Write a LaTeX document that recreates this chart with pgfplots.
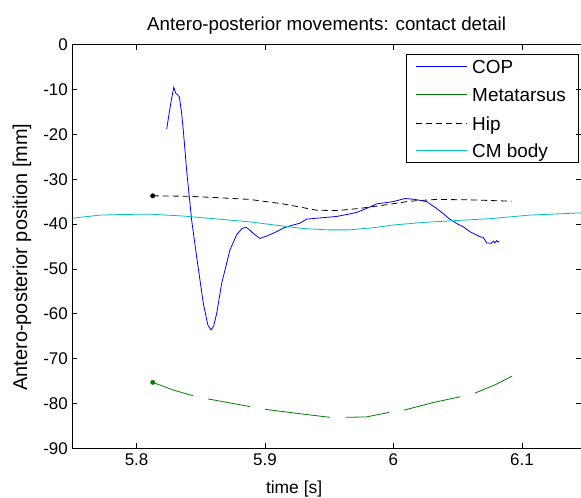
\documentclass[border=0pt]{standalone}
\usepackage{pgfplots}
\pgfplotsset{compat=1.18}
\usepackage{fontspec}
\setmainfont{Liberation Sans}
\definecolor{copblue}{rgb}{0,0,1}
\definecolor{metgreen}{rgb}{0,0.5,0}
\definecolor{cmcyan}{rgb}{0,0.75,0.75}
\begin{document}
\begin{tikzpicture}
\begin{axis}[
  scale only axis,
  width=508.7bp, height=403.6bp,
  xmin=5.75, xmax=6.146,
  ymin=-90, ymax=0,
  xtick={5.8,5.9,6,6.1},
  xticklabels={5.8,5.9,6,6.1},
  ytick={-90,-80,...,0},
  tick align=inside,
  major tick length=5bp,
  tick style={black, line width=0.6bp},
  axis line style={black, line width=0.6bp},
  font=\fontsize{17}{20}\selectfont,
  /pgf/number format/assume math mode=true,
  ticklabel style={font=\fontsize{17}{20}\selectfont},
  xticklabel style={yshift=-2bp},
  yticklabel style={xshift=-1bp},
  title={Antero-posterior movements: contact detail},
  title style={font=\fontsize{18.8}{22}\selectfont, yshift=1bp},
  xlabel={time [s]},
  ylabel={Antero-posterior position [mm]},
  xlabel style={at={(axis description cs:0.436,-0.1008)}, anchor=center, font=\fontsize{17.5}{20}\selectfont},
  ylabel style={at={(axis description cs:-0.0989,0.474)}, anchor=center, font=\fontsize{20}{24}\selectfont},
  unbounded coords=jump,
  clip=false,
]
\addplot[copblue, line width=0.8bp] coordinates {
(5.8235,-18.8) (5.8250,-16.0) (5.8270,-12.5) (5.8290,-9.5) (5.8305,-10.8) (5.8333,-11.6)
(5.8350,-15) (5.8364,-19) (5.8390,-28) (5.8429,-39.1) (5.8468,-47.3)
(5.8520,-57.7) (5.8555,-62.5) (5.8580,-63.6) (5.8600,-62.8) (5.8624,-59.9)
(5.8663,-53.2) (5.8727,-45.8) (5.8779,-42.4) (5.8820,-41.0) (5.8852,-40.7)
(5.8880,-41.3) (5.8909,-42.1) (5.8960,-43.2) (5.9020,-42.6) (5.9090,-41.7)
(5.9150,-40.8) (5.9220,-40.2) (5.9272,-39.8) (5.9324,-38.9) (5.9400,-38.7)
(5.9558,-38.3) (5.9650,-37.8) (5.9713,-37.4) (5.9800,-36.4) (5.9869,-35.5)
(5.9998,-35) (6.0089,-34.3) (6.0167,-34.5) (6.0258,-35) (6.0336,-36.5)
(6.0439,-38.9) (6.0500,-40.0) (6.0543,-40.6) (6.0595,-41.7) (6.0673,-42.8)
(6.0700,-43.0) (6.0725,-44.2) (6.0760,-44.3) (6.0780,-43.8) (6.0790,-44.2)
(6.0803,-43.7) (6.0815,-44.0) (6.0823,-43.8)
};
\addplot[metgreen, line width=0.8bp] coordinates {
(5.8126,-75.3) (5.8286,-77.0) (5.8441,-78.3)
(5.85,nan)
(5.8558,-79.0) (5.8883,-80.7)
(5.894,nan)
(5.9000,-81.3) (5.9246,-82.2) (5.9506,-83.1)
(5.956,nan)
(5.9627,-83.1) (5.9790,-83.0) (5.9967,-82.0)
(6.002,nan)
(6.0081,-81.5) (6.0309,-79.8) (6.0522,-78.5)
(6.058,nan)
(6.0634,-77.7) (6.0802,-75.7) (6.0924,-73.9)
};
\addplot[black, line width=0.8bp, dash pattern=on 6bp off 4bp] coordinates {
(5.8126,-33.7) (5.8400,-33.8) (5.8624,-34.1) (5.8880,-34.5) (5.9140,-35.5)
(5.9400,-36.9) (5.9558,-37.0) (5.9740,-36.5) (5.9920,-35.8) (6.0128,-34.9)
(6.0336,-34.5) (6.0595,-34.6) (6.0920,-34.9)
};
\addplot[cmcyan, line width=0.8bp] coordinates {
(5.7500,-38.7) (5.7716,-38.0) (5.7900,-37.85) (5.8106,-37.8) (5.8360,-38.2)
(5.8600,-38.8) (5.8880,-39.5) (5.9100,-40.3) (5.9300,-41.0) (5.9500,-41.3)
(5.9650,-41.3) (5.9850,-40.8) (6.0000,-40.2) (6.0250,-39.6) (6.0500,-39.2)
(6.0750,-38.8) (6.1060,-38.0) (6.1460,-37.5)
};
\addplot[black, only marks, mark=*, mark size=2.2bp] coordinates {(5.8126,-33.7)};
\addplot[metgreen, only marks, mark=*, mark size=2.2bp] coordinates {(5.8126,-75.3)};
% legend box
\draw[black, line width=0.6bp] (axis description cs:0.656,0.977) rectangle (axis description cs:0.9955,0.7086);
\draw[copblue, line width=1bp] (axis description cs:0.6756,0.9455) -- (axis description cs:0.7753,0.9455);
\draw[metgreen, line width=1bp] (axis description cs:0.6756,0.8761) -- (axis description cs:0.7753,0.8761);
\draw[black, line width=1bp, dash pattern=on 6bp off 4bp] (axis description cs:0.6756,0.8053) -- (axis description cs:0.7753,0.8053);
\draw[cmcyan, line width=1bp] (axis description cs:0.6756,0.7374) -- (axis description cs:0.7753,0.7374);
\begin{scope}[every node/.style={anchor=base west, inner sep=0pt, font=\fontsize{19}{22}\selectfont}]
\node at (axis description cs:0.7858,0.9287) {COP};
\node at (axis description cs:0.7858,0.8593) {Metatarsus};
\node at (axis description cs:0.7858,0.7885) {Hip};
\node at (axis description cs:0.7858,0.7206) {CM body};
\end{scope}
\end{axis}
\pgfresetboundingbox
\path[use as bounding box] ([shift={(-72.3bp,-49.7bp)}]current axis.south west) rectangle ([shift={(0bp,44.7bp)}]current axis.north east);
\end{tikzpicture}
\end{document}
